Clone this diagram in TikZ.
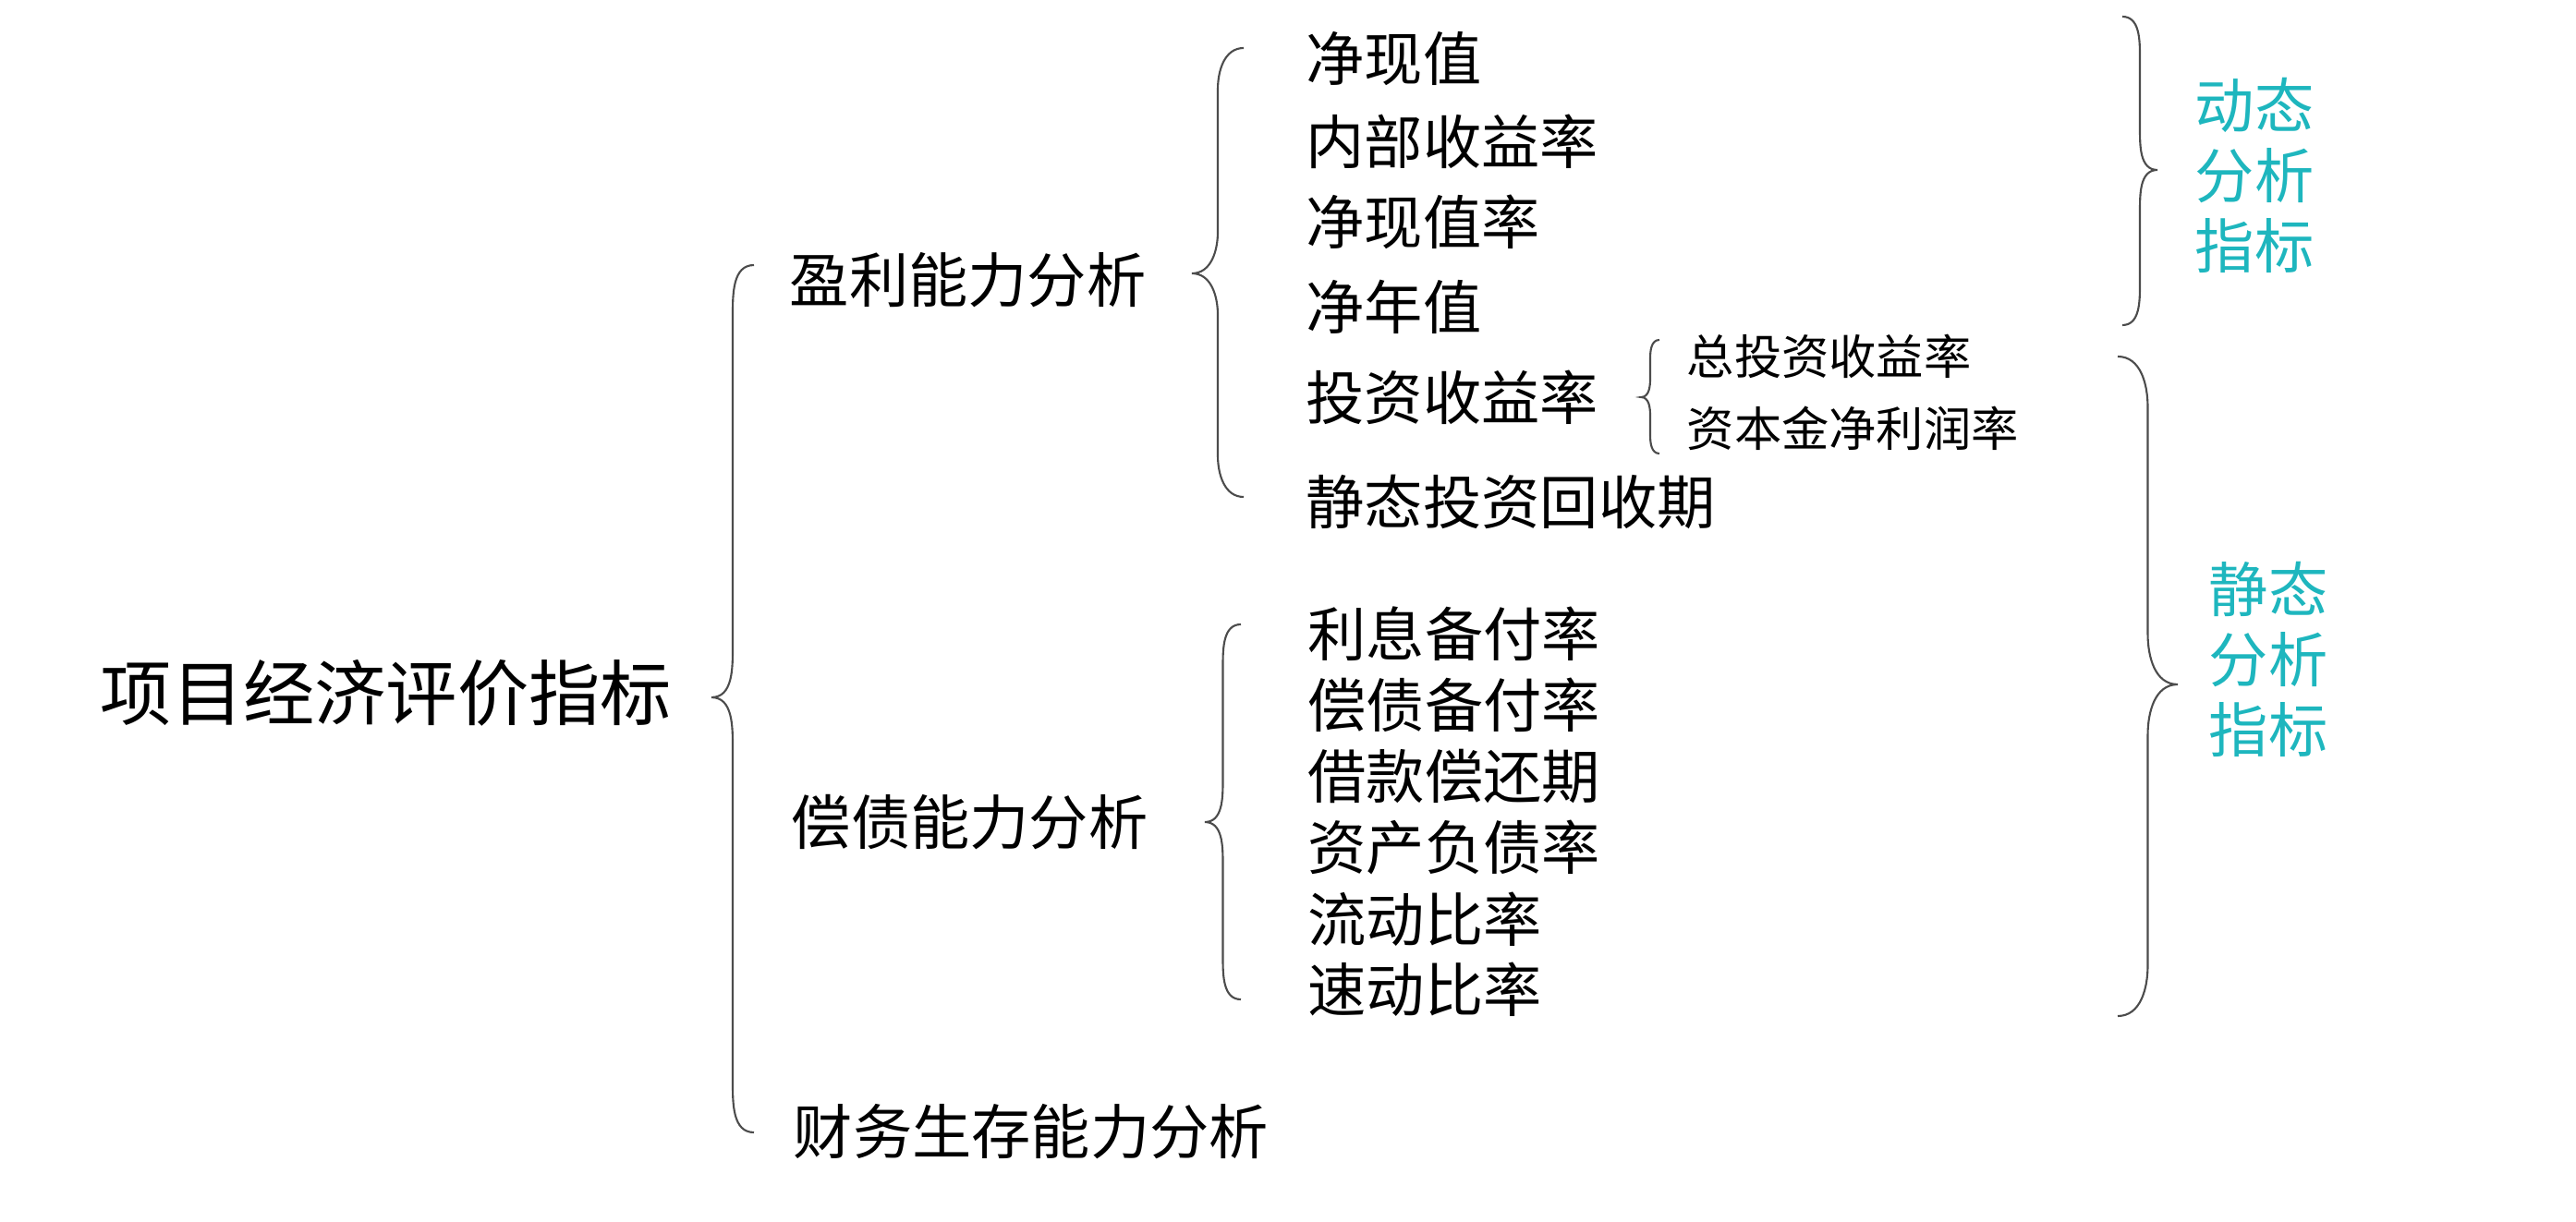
\documentclass[tikz,border=0pt]{standalone}
\usepackage{fontspec}
\setmainfont{Noto Sans CJK SC}
\usepackage{tikz}
\usetikzlibrary{positioning}
\definecolor{labteal}{RGB}{30,182,190}
\tikzset{
    rootlbl/.style={anchor=west,inner sep=0pt,font=\fontsize{22}{26}\selectfont},
    grplbl/.style={anchor=west,inner sep=0pt,font=\fontsize{18.3}{22}\selectfont},
    itemlbl/.style={anchor=west,inner sep=0pt,font=\fontsize{18}{22}\selectfont},
    sublbl/.style={anchor=west,inner sep=0pt,font=\fontsize{14.6}{18}\selectfont},
    kindlbl/.style={anchor=west,inner sep=0pt,align=left,text=labteal,
        font=\fontsize{18.3}{21.6}\selectfont},
    brc/.style={draw=black!70,line width=0.6pt}
}
% braces: end x, tip x, top y, tip y, bottom y, curl
\newcommand{\leftbrc}[6]{%
  \pgfmathsetmacro{\xs}{(#1+#2)/2}
  \draw[brc] (#1,#3) to[out=180,in=90] (\xs,#3-#6) -- (\xs,#4+#6)
    to[out=-90,in=0] (#2,#4) to[out=0,in=90] (\xs,#4-#6) -- (\xs,#5+#6)
    to[out=-90,in=180] (#1,#5);}
\newcommand{\rightbrc}[6]{%
  \pgfmathsetmacro{\xs}{(#1+#2)/2}
  \draw[brc] (#1,#3) to[out=0,in=90] (\xs,#3-#6) -- (\xs,#4+#6)
    to[out=-90,in=180] (#2,#4) to[out=180,in=90] (\xs,#4-#6) -- (\xs,#5+#6)
    to[out=-90,in=0] (#1,#5);}

\begin{document}
\begin{tikzpicture}
  \useasboundingbox (0,0) rectangle (27.88,-13.23);

  \node[rootlbl] (root) at (1.08,-7.50) {项目经济评价指标};

  \node[grplbl] (profit) at (8.54,-3.03) {盈利能力分析};
  \node[grplbl] (debt) at (8.56,-8.90) {偿债能力分析};
  \node[grplbl] (fin) at (8.58,-12.25) {财务生存能力分析};
  \leftbrc{8.16}{7.70}{-2.87}{-7.55}{-12.26}{0.55}

  % profit items
  \node[itemlbl] (npv) at (14.13,-0.64) {净现值};
  \node[itemlbl] (irr) at (14.13,-1.53) {内部收益率};
  \node[itemlbl] (npvr) at (14.13,-2.40) {净现值率};
  \node[itemlbl] (nav) at (14.13,-3.32) {净年值};
  \node[itemlbl] (roi) at (14.13,-4.30) {投资收益率};
  \node[itemlbl] (pbp) at (14.13,-5.43) {静态投资回收期};
  \leftbrc{13.46}{12.90}{-0.52}{-2.96}{-5.38}{0.45}

  \node[sublbl] (troi) at (18.25,-3.86) {总投资收益率};
  \node[sublbl] (roe) at (18.25,-4.64) {资本金净利润率};
  \leftbrc{17.96}{17.76}{-3.68}{-4.30}{-4.91}{0.2}

  % debt items
  \node[itemlbl] (icr) at (14.15,-6.86) {利息备付率};
  \node[itemlbl] (dscr) at (14.15,-7.63) {偿债备付率};
  \node[itemlbl] (lrp) at (14.15,-8.40) {借款偿还期};
  \node[itemlbl] (alr) at (14.15,-9.17) {资产负债率};
  \node[itemlbl] (cr) at (14.15,-9.95) {流动比率};
  \node[itemlbl] (qr) at (14.15,-10.71) {速动比率};
  \leftbrc{13.43}{13.04}{-6.76}{-8.90}{-10.82}{0.45}

  % dynamic / static
  \rightbrc{22.97}{23.35}{-0.18}{-1.84}{-3.52}{0.45}
  \node[kindlbl] (dyn) at (23.75,-1.90) {动态\\分析\\指标};
  \rightbrc{22.92}{23.57}{-3.86}{-7.41}{-11.00}{0.55}
  \node[kindlbl] (sta) at (23.90,-7.14) {静态\\分析\\指标};
\end{tikzpicture}
\end{document}
